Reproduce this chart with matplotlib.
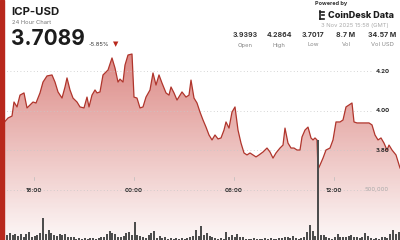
import numpy as np
import matplotlib
matplotlib.use('agg')
import matplotlib.pyplot as plt
from matplotlib.patches import Rectangle
from matplotlib.lines import Line2D
import matplotlib.transforms as mtransforms

plt.rcParams['font.family'] = ['Inter', 'DejaVu Sans']

# hours since 15:58 (GMT) on 2 Nov
hours = [0.24, 0.48, 0.72, 0.84, 1.02, 1.2, 1.44, 1.62, 1.8, 1.98,
         2.16, 2.4, 2.58, 2.82, 3.12, 3.3, 3.48, 3.72, 3.9, 4.02,
         4.2, 4.38, 4.62, 4.8, 5.04, 5.22, 5.34, 5.52, 5.7, 5.82,
         6.0, 6.18, 6.48, 6.72, 6.9, 7.08, 7.2, 7.38, 7.5, 7.68,
         7.92, 8.04, 8.22, 8.4, 8.58, 8.76, 9.0, 9.18, 9.36, 9.54,
         9.72, 9.96, 10.14, 10.26, 10.44, 10.62, 10.8, 10.92, 11.16, 11.34,
         11.46, 11.64, 11.82, 12.0, 12.18, 12.36, 12.54, 12.72, 12.9, 13.08,
         13.26, 13.44, 13.56, 13.74, 13.92, 14.1, 14.28, 14.46, 14.64, 14.82,
         15.0, 15.18, 15.36, 15.54, 15.78, 16.02, 16.2, 16.38, 16.56, 16.8,
         16.98, 17.1, 17.28, 17.46, 17.64, 17.82, 18.0, 18.12, 18.3, 18.48,
         18.66, 18.78, 18.9, 19.02, 19.08, 19.2, 19.38, 19.56, 19.8, 19.98,
         20.16, 20.4, 20.58, 20.76, 20.94, 21.12, 21.24, 21.42, 21.72, 21.96,
         22.14, 22.32, 22.5, 22.68, 22.86, 23.04, 23.22, 23.34, 23.52, 23.76,
         24.0]

price = [3.939, 3.962, 3.972, 4.043, 4.018, 4.078, 4.089, 4.013, 4.028, 4.043,
         4.038, 4.089, 4.144, 4.175, 4.180, 4.144, 4.094, 4.063, 4.119, 4.165,
         4.104, 4.063, 4.043, 4.018, 4.013, 4.068, 4.018, 4.078, 4.104, 4.089,
         4.094, 4.180, 4.205, 4.266, 4.215, 4.144, 4.159, 4.144, 4.230, 4.281,
         4.286, 4.068, 4.063, 4.013, 4.018, 4.068, 4.104, 4.190, 4.129, 4.180,
         4.139, 4.089, 4.078, 4.119, 4.089, 4.053, 4.078, 4.094, 4.068, 4.078,
         4.154, 4.063, 4.038, 3.992, 3.952, 3.916, 3.876, 3.851, 3.876, 3.856,
         3.861, 3.901, 3.942, 3.911, 3.992, 4.018, 3.901, 3.835, 3.785, 3.775,
         3.785, 3.775, 3.765, 3.775, 3.790, 3.810, 3.790, 3.759, 3.785, 3.810,
         3.825, 3.911, 3.835, 3.810, 3.810, 3.800, 3.800, 3.866, 3.901, 3.916,
         3.861, 3.851, 3.861, 3.851, 3.702, 3.724, 3.759, 3.800, 3.810, 3.851,
         3.942, 3.942, 3.952, 4.018, 4.028, 4.038, 3.942, 3.937, 3.937, 3.937,
         3.937, 3.927, 3.876, 3.851, 3.861, 3.835, 3.800, 3.825, 3.800, 3.775,
         3.709]

# 10 minute volume bars (thousands)
volume_k = [40, 40, 50, 70, 50, 60, 40, 60, 30, 60,
            80, 30, 40, 50, 70, 220, 60, 100, 70, 50,
            40, 60, 50, 60, 30, 30, 30, 10, 20, 10,
            20, 10, 20, 20, 10, 20, 30, 30, 60, 90,
            70, 60, 30, 30, 40, 70, 80, 50, 180, 50,
            40, 30, 20, 50, 70, 90, 20, 40, 20, 30,
            10, 20, 10, 20, 10, 20, 10, 20, 30, 40,
            100, 40, 140, 50, 70, 40, 30, 20, 10, 20,
            10, 80, 30, 50, 30, 60, 30, 30, 10, 10,
            10, 20, 10, 10, 10, 20, 10, 20, 10, 10,
            20, 20, 30, 30, 20, 40, 20, 10, 20, 30,
            80, 150, 90, 40, 1000, 50, 50, 30, 20, 10,
            30, 60, 30, 30, 30, 40, 50, 30, 30, 20,
            30, 70, 40, 20, 10, 20, 10, 30, 30, 20,
            60, 100, 60, 80]

price_ticks = [3.80, 4.00, 4.20]
time_ticks = [2.03, 8.03, 14.03, 20.03]
time_labels = ['18:00', '00:00', '06:00', '12:00']
vol_grid = 500000

stat_values = ['3.9393', '4.2864', '3.7017', '8.7 M', '34.57 M']
stat_names = ['Open', 'High', 'Low', 'Vol', 'Vol USD']

RED = '#b8281c'
LINE = '#b0352c'
DARK = '#1c1c1c'
GRID = '#c8c8c8'

fig = plt.figure(figsize=(4, 2.4), dpi=100)
ax = fig.add_axes([0, 0, 1, 1])
ax.set_xlim(0, 24)
ax.set_ylim(3.3443, 4.5595)
ax.axis('off')

# gradient fill under the price line
x = np.array(hours)
y = np.array(price)
poly = ax.fill_between(x, y, 3.3443, color='none', lw=0)
grad = np.zeros((256, 1, 4))
grad[:, 0, 0] = 0.78
grad[:, 0, 1] = 0.25
grad[:, 0, 2] = 0.22
grad[:, 0, 3] = np.linspace(0.62, 0.04, 256)
img = ax.imshow(grad, extent=[0, 24, 3.3443, 4.30], aspect='auto',
                origin='upper', zorder=1)
path = poly.get_paths()[0]
img.set_clip_path(path, transform=ax.transData)
ax.plot(x, y, color=LINE, lw=0.9, zorder=3)

# price grid and labels
for p in price_ticks:
    ax.plot([0, 22.3], [p, p], ls=(0, (1, 3)), color=GRID, lw=0.6, zorder=2)
    ax.text(22.98, p, '%.2f' % p, ha='center', va='center', fontsize=4.3,
            fontweight='bold', color='#2a2a2a', zorder=5)

# volume on its own axis
vax = fig.add_axes([0, 0, 1, 1], sharex=ax)
vax.patch.set_visible(False)
vax.set_ylim(0, 2.4e6)
vax.axis('off')
centers = (np.arange(len(volume_k)) + 0.5) / 6
vax.bar(centers, np.array(volume_k) * 1000, width=0.12, color='#4d4d4d',
        zorder=4)
vax.plot([0, 21.9], [vol_grid, vol_grid], ls=(0, (1, 3)), color=GRID, lw=0.6)
vax.text(22.62, vol_grid, '{:,}'.format(vol_grid), ha='center', va='center',
         fontsize=4.3, color='#aaaaaa')

# time axis labels
trans = mtransforms.blended_transform_factory(ax.transData, ax.transAxes)
for t, lab in zip(time_ticks, time_labels):
    ax.text(t, 1 - 190 / 240, lab, transform=trans, ha='center', va='center',
            fontsize=4.3, fontweight='bold', color='#333333', zorder=5)
    ax.plot([t, t], [1 - 177 / 240, 1 - 180 / 240], transform=trans,
            color='#bbbbbb', lw=0.5)

# left red strip
fig.add_artist(Rectangle((0, 0), 4 / 400, 1, transform=fig.transFigure,
                         color=RED, zorder=10))


def ftext(px, py, s, **kw):
    fig.text(px / 400, 1 - py / 240, s, **kw)


# header
ftext(11.5, 12, 'ICP-USD', fontsize=8.2, fontweight='bold', color=DARK, va='center')
ftext(12, 22.5, '24 Hour Chart', fontsize=4.2, color='#777777', va='center')
ftext(10.5, 39, '3.7089', fontsize=15, fontweight='bold', color=DARK, va='center')
ftext(89, 44, '-5.85%', fontsize=4.2, color='#333333', va='center')
ftext(116, 44, '\u25bc', fontsize=5, color=RED, va='center', ha='center',
      family='DejaVu Sans')

# branding
ftext(331, 4, 'Powered by', fontsize=4, fontweight='bold', color='#333333',
      va='center', ha='center')
fig.add_artist(Line2D([319.5 / 400, 319.5 / 400], [1 - 11 / 240, 1 - 19 / 240],
                      transform=fig.transFigure, color=DARK, lw=1.2))
fig.add_artist(Line2D([319.5 / 400, 324 / 400], [1 - 11.5 / 240, 1 - 11.5 / 240],
                      transform=fig.transFigure, color=DARK, lw=1.2))
fig.add_artist(Line2D([322 / 400, 324 / 400], [1 - 15 / 240, 1 - 15 / 240],
                      transform=fig.transFigure, color=DARK, lw=1.2))
fig.add_artist(Line2D([319.5 / 400, 324 / 400], [1 - 18.5 / 240, 1 - 18.5 / 240],
                      transform=fig.transFigure, color=DARK, lw=1.2))
ftext(328, 15, 'CoinDesk Data', fontsize=6.5, fontweight='heavy', color=DARK,
      va='center')
ftext(355, 25, '3 Nov 2025 15:58 (GMT)', fontsize=4.2, color='#aaaaaa',
      va='center', ha='center')

stat_x = [245, 279, 313, 346, 382]
for sx, val, name in zip(stat_x, stat_values, stat_names):
    ftext(sx, 35, val, fontsize=5, fontweight='bold', color='#333333',
          va='center', ha='center')
    ftext(sx, 45, name, fontsize=4.2, color='#888888', va='center', ha='center')

fig.savefig('out.png', dpi=100)
